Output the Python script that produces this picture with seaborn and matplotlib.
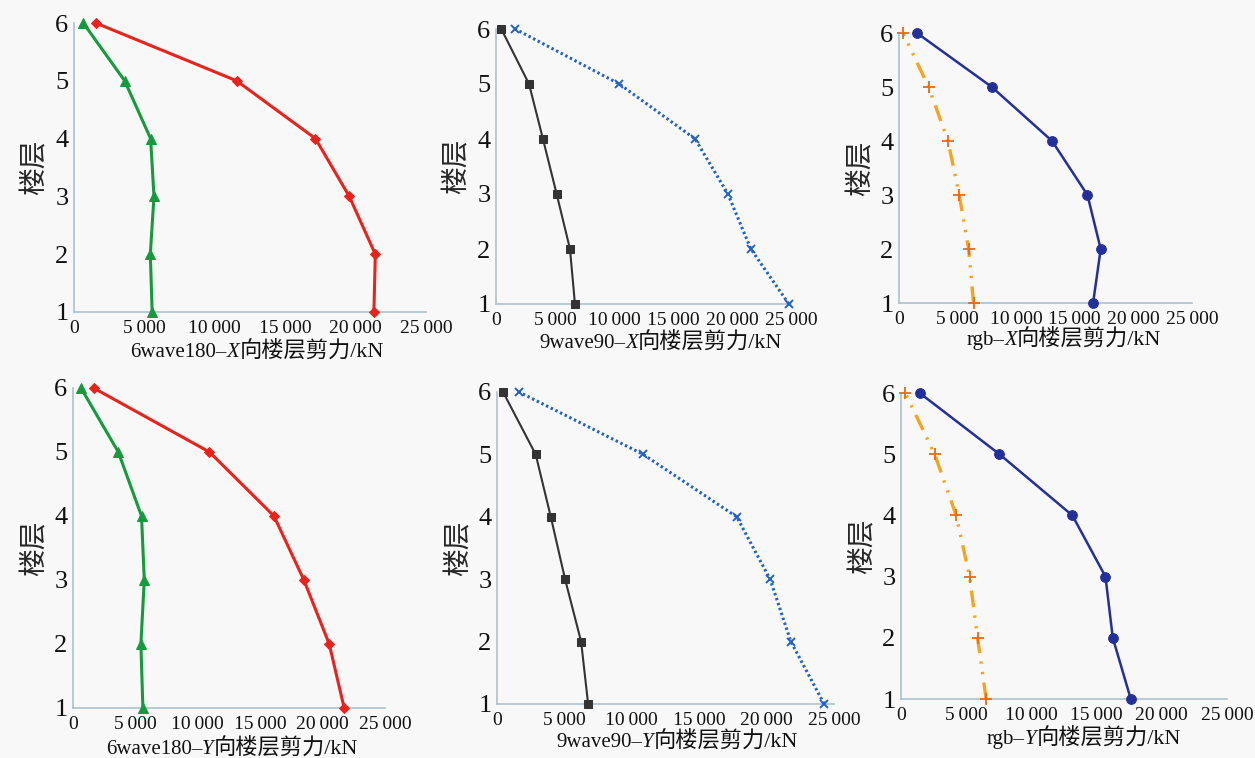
import pandas as pd
import matplotlib
matplotlib.use("Agg")
import matplotlib.pyplot as plt
from matplotlib.ticker import FuncFormatter
from matplotlib.offsetbox import TextArea, HPacker, AnchoredOffsetbox
import seaborn as sns

floors = [1, 2, 3, 4, 5, 6]

# 6wave180 (red / green)
wave6_x_red = [21300, 21400, 19550, 17150, 11550, 1550]
wave6_x_green = [5550, 5420, 5680, 5440, 3600, 660]
wave6_y_red = [21730, 20530, 18500, 16100, 10930, 1650]
wave6_y_green = [5600, 5440, 5710, 5490, 3630, 640]

# 9wave90 (black / blue)
wave9_x_black = [6690, 6270, 5140, 3980, 2800, 450]
wave9_x_blue = [24820, 21600, 19650, 16880, 10450, 1630]
wave9_y_black = [6760, 6240, 5050, 3990, 2870, 450]
wave9_y_blue = [24270, 21800, 20260, 17780, 10850, 1630]

# rgb (navy / orange)
rgb_x_navy = [16560, 17210, 16080, 13060, 7920, 1530]
rgb_x_orange = [6360, 5940, 5140, 4180, 2530, 340]
rgb_y_navy = [17620, 16240, 15680, 13140, 7550, 1430]
rgb_y_orange = [6530, 5870, 5260, 4230, 2580, 330]

x_ticks = [0, 5000, 10000, 15000, 20000, 25000]
label_prefix = ['6wave180–', '9wave90–', 'rgb–']
directions = ['X', 'Y']
label_suffix = '向楼层剪力/kN'

styles = {
    'red': dict(color='#e8231d', marker='D', markersize=5, linewidth=2.2, linestyle='-',
                markeredgecolor='#e8231d'),
    'green': dict(color='#17993d', marker='^', markersize=7, linewidth=2.2, linestyle='-',
                  markeredgecolor='#17993d'),
    'black': dict(color='#333333', marker='s', markersize=6, linewidth=1.5, linestyle='-',
                  markeredgecolor='#333333'),
    'blue': dict(color='#2462c2', marker='x', markersize=6, markeredgewidth=1.4,
                 markeredgecolor='#2462c2', linewidth=2.2, linestyle=(0, (0.8, 0.9))),
    'navy': dict(color='#24309a', marker='o', markersize=7, linewidth=1.8, linestyle='-',
                 markeredgecolor='#24309a'),
    'orange': dict(color='#f4a323', marker='+', markersize=8, markeredgewidth=1.3,
                   markeredgecolor='#ec6a12', linewidth=2.4,
                   linestyle=(0, (5, 2.5, 0.7, 2.5, 0.7, 2.5))),
}

panels = [
    [('red', wave6_x_red), ('green', wave6_x_green)],
    [('black', wave9_x_black), ('blue', wave9_x_blue)],
    [('navy', rgb_x_navy), ('orange', rgb_x_orange)],
    [('red', wave6_y_red), ('green', wave6_y_green)],
    [('black', wave9_y_black), ('blue', wave9_y_blue)],
    [('navy', rgb_y_navy), ('orange', rgb_y_orange)],
]

# axes boxes in pixels: left, top, right, bottom
W, H = 1255, 758
boxes = [
    (74, 23, 426, 312), (496, 29, 791, 304), (899, 33, 1192, 303),
    (73, 388, 385, 708), (497, 392, 834, 704), (901, 393, 1227, 699),
]
xlabel_centers = [(257, 351), (661, 342), (1064, 339), (232, 748), (677, 741), (1084, 738)]

sns.set_theme(style='white')
plt.rcParams['font.family'] = ['Liberation Serif', 'Noto Sans CJK SC']
plt.rcParams['axes.unicode_minus'] = False

spine_color = '#a9c3cc'
bg = '#f8f8f8'

fig = plt.figure(figsize=(W / 100, H / 100), dpi=100, facecolor=bg)

fmt = FuncFormatter(lambda v, p: '0' if v == 0 else f'{int(v) // 1000}\u2009000')

for i, (series, box) in enumerate(zip(panels, boxes)):
    l, t, r, b = box
    ax = fig.add_axes([l / W, (H - b) / H, (r - l) / W, (b - t) / H])
    ax.set_facecolor(bg)
    for name, vals in series:
        df = pd.DataFrame({'shear': vals, 'floor': floors})
        sns.lineplot(data=df, x='shear', y='floor', orient='y', estimator=None,
                     ax=ax, clip_on=False, zorder=3, **styles[name])
    ax.set_xlim(0, 25000)
    ax.set_ylim(1, 6)
    ax.set_xticks(x_ticks)
    ax.set_yticks(floors)
    ax.xaxis.set_major_formatter(fmt)
    ax.tick_params(axis='x', direction='in', length=4, color=spine_color,
                   labelsize=14, pad=6, labelcolor='#111111')
    ax.tick_params(axis='y', direction='in', length=4, color=spine_color,
                   labelsize=19, pad=4, labelcolor='#111111')
    for s in ['top', 'right']:
        ax.spines[s].set_visible(False)
    for s in ['left', 'bottom']:
        ax.spines[s].set_color(spine_color)
        ax.spines[s].set_linewidth(1.2)
    ax.set_xlabel('')
    ax.set_ylabel('楼层', fontsize=20, va='center')
    ax.yaxis.set_label_coords(-38 / (r - l), 0.5)

    # x label with italic direction letter
    tp = dict(fontsize=15, color='#111111')
    parts = [
        TextArea(label_prefix[i % 3], textprops=tp),
        TextArea(directions[i // 3], textprops=dict(tp, style='italic')),
        TextArea(label_suffix, textprops=dict(tp, fontsize=16)),
    ]
    pack = HPacker(children=parts, align='baseline', pad=0, sep=0)
    cx, cy = xlabel_centers[i]
    anchored = AnchoredOffsetbox(loc='center', child=pack, pad=0, borderpad=0, frameon=False,
                                 bbox_to_anchor=(cx / W, (H - cy) / H),
                                 bbox_transform=fig.transFigure)
    fig.add_artist(anchored)

fig.savefig('out.png', dpi=100, facecolor=bg)
